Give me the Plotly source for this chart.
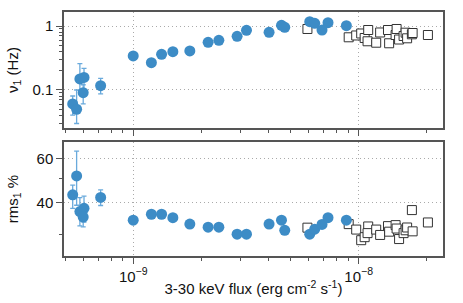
import plotly.graph_objects as go
from plotly.subplots import make_subplots

# ---- data: filled blue points (flux in erg cm^-2 s^-1) ----
blue_flux = [5.39e-10, 5.61e-10, 5.80e-10, 6.05e-10, 6.00e-10, 7.17e-10,
             1.00e-9, 1.204e-9, 1.336e-9, 1.499e-9, 1.783e-9, 2.149e-9,
             2.398e-9, 2.889e-9, 3.180e-9, 4.005e-9, 4.546e-9, 4.700e-9,
             6.066e-9, 6.384e-9, 6.877e-9, 7.311e-9, 8.820e-9]
blue_nu = [0.0604, 0.0499, 0.1486, 0.1567, 0.0907, 0.1167,
           0.340, 0.267, 0.361, 0.397, 0.407, 0.556,
           0.598, 0.690, 0.857, 0.797, 1.025, 0.954,
           1.167, 1.102, 0.866, 1.126, 1.011]
blue_nu_err_plus = [0.020, 0.050, 0.110, 0.060, 0.030, 0.035] + [0] * 17
blue_nu_err_minus = [0.020, 0.020, 0.050, 0.060, 0.030, 0.030] + [0] * 17
blue_rms = [43.0, 51.1, 36.9, 38.0, 35.1, 42.0,
            34.1, 36.0, 36.0, 34.9, 32.9, 32.0,
            32.0, 30.0, 30.0, 32.9, 34.1, 31.1,
            30.0, 31.4, 32.8, 34.9, 34.1]
blue_rms_err_plus = [4.0, 13.0, 5.0, 4.5, 3.0, 3.0] + [0] * 17
blue_rms_err_minus = [5.0, 12.0, 4.5, 4.5, 3.0, 3.0] + [0] * 17

# ---- data: open squares ----
sq_flux = [5.925e-9, 9.03e-9, 9.75e-9, 1.026e-8, 1.063e-8, 1.102e-8,
           1.095e-8, 1.196e-8, 1.245e-8, 1.349e-8, 1.365e-8, 1.458e-8,
           1.473e-8, 1.511e-8, 1.582e-8, 1.615e-8, 1.640e-8, 1.722e-8,
           1.735e-8, 2.028e-8]
sq_nu = [0.898, 0.666, 0.711, 0.764, 0.649, 0.866,
         0.577, 0.548, 0.792, 0.866, 0.537, 0.723,
         0.898, 0.615, 0.698, 0.786, 0.642, 0.742,
         0.777, 0.723]
sq_rms = [31.85, 32.9, 31.3, 28.4, 29.2, 32.2,
          30.3, 31.3, 29.8, 32.3, 30.7, 32.6,
          31.6, 28.7, 30.3, 31.1, 31.9, 37.4,
          30.8, 33.4]

x_tickvals = [1e-9, 1e-8]
x_ticktext = ["10<sup>\u22129</sup>", "10<sup>\u22128</sup>"]
x_minor = [5e-10, 6e-10, 7e-10, 8e-10, 9e-10,
           2e-9, 3e-9, 4e-9, 5e-9, 6e-9, 7e-9, 8e-9, 9e-9, 2e-8]
nu_tickvals = [0.1, 1]
nu_ticktext = ["0.1", "1"]
nu_minor = [0.03, 0.04, 0.05, 0.06, 0.07, 0.08, 0.09,
            0.2, 0.3, 0.4, 0.5, 0.6, 0.7, 0.8, 0.9]
rms_tickvals = [40, 60]
rms_minor = [30, 50]

BLUE = "#3d8cc6"
ERR = "#6aaadc"
AX = "#555555"
GRID = "#aaaaaa"
FS = 15

fig = make_subplots(rows=2, cols=1, shared_xaxes=True)

for row, ys in ((1, sq_nu), (2, sq_rms)):
    fig.add_trace(go.Scatter(
        x=sq_flux, y=ys, mode="markers",
        marker=dict(symbol="square", size=9, color="white",
                    line=dict(color="#333333", width=1)),
        showlegend=False, hoverinfo="skip"), row=row, col=1)

fig.add_trace(go.Scatter(
    x=blue_flux, y=blue_nu, mode="markers",
    marker=dict(size=11, color=BLUE, line=dict(width=0)),
    error_y=dict(type="data", array=blue_nu_err_plus, arrayminus=blue_nu_err_minus,
                 color=ERR, thickness=1.3, width=2.5),
    showlegend=False), row=1, col=1)
fig.add_trace(go.Scatter(
    x=blue_flux, y=blue_rms, mode="markers",
    marker=dict(size=11, color=BLUE, line=dict(width=0)),
    error_y=dict(type="data", array=blue_rms_err_plus, arrayminus=blue_rms_err_minus,
                 color=ERR, thickness=1.3, width=2.5),
    showlegend=False), row=2, col=1)

FONT = "Liberation Sans, Arial, sans-serif"
common_axis = dict(showline=True, mirror=True, linecolor=AX, linewidth=1.5,
                   ticks="outside", tickcolor=AX, tickwidth=1, ticklen=6,
                   showgrid=True, gridcolor=GRID, gridwidth=1, griddash="1px,3px",
                   zeroline=False, automargin=False,
                   tickfont=dict(size=FS, color="#111", family=FONT))

minor_x = dict(tickmode="array", tickvals=x_minor, ticks="outside", ticklen=3,
               tickcolor=AX, showgrid=False)

fig.update_xaxes(type="log", range=[-9.307, -7.626], tickmode="array",
                 tickvals=x_tickvals, ticktext=x_ticktext, minor=minor_x,
                 domain=[0, 1], **common_axis)
fig.update_xaxes(showticklabels=False, row=1, col=1)
fig.update_xaxes(title=dict(text="3-30 keV flux (erg cm<sup>-2</sup> s<sup>-1</sup>)",
                            font=dict(size=FS, color="#111", family=FONT), standoff=0),
                 row=2, col=1)

fig.update_yaxes(type="log", range=[-1.595, 0.219], tickmode="array",
                 tickvals=nu_tickvals, ticktext=nu_ticktext,
                 minor=dict(tickmode="array", tickvals=nu_minor, ticks="outside",
                            ticklen=3, tickcolor=AX, showgrid=False),
                 domain=[0.5246, 1.0],
                 title=dict(text="\u03bd<sub>1</sub> (Hz)",
                            font=dict(size=FS, color="#111", family=FONT), standoff=10),
                 row=1, col=1, **common_axis)
fig.update_yaxes(type="log", range=[1.3906, 1.843], tickmode="array",
                 tickvals=rms_tickvals, ticktext=["40", "60"],
                 minor=dict(tickmode="array", tickvals=rms_minor, ticks="outside",
                            ticklen=3, tickcolor=AX, showgrid=False),
                 domain=[0.0, 0.467],
                 title=dict(text="rms<sub>1</sub> %",
                            font=dict(size=FS, color="#111", family=FONT), standoff=14),
                 row=2, col=1, **common_axis)

fig.update_layout(width=463, height=303, margin=dict(l=64, r=20, t=12, b=47),
                  plot_bgcolor="white", paper_bgcolor="white",
                  font=dict(family=FONT, size=FS, color="#111"))

fig.write_html("out.html", config={"displayModeBar": False},
               post_script="document.body.style.margin='0';document.body.style.overflow='hidden';")
